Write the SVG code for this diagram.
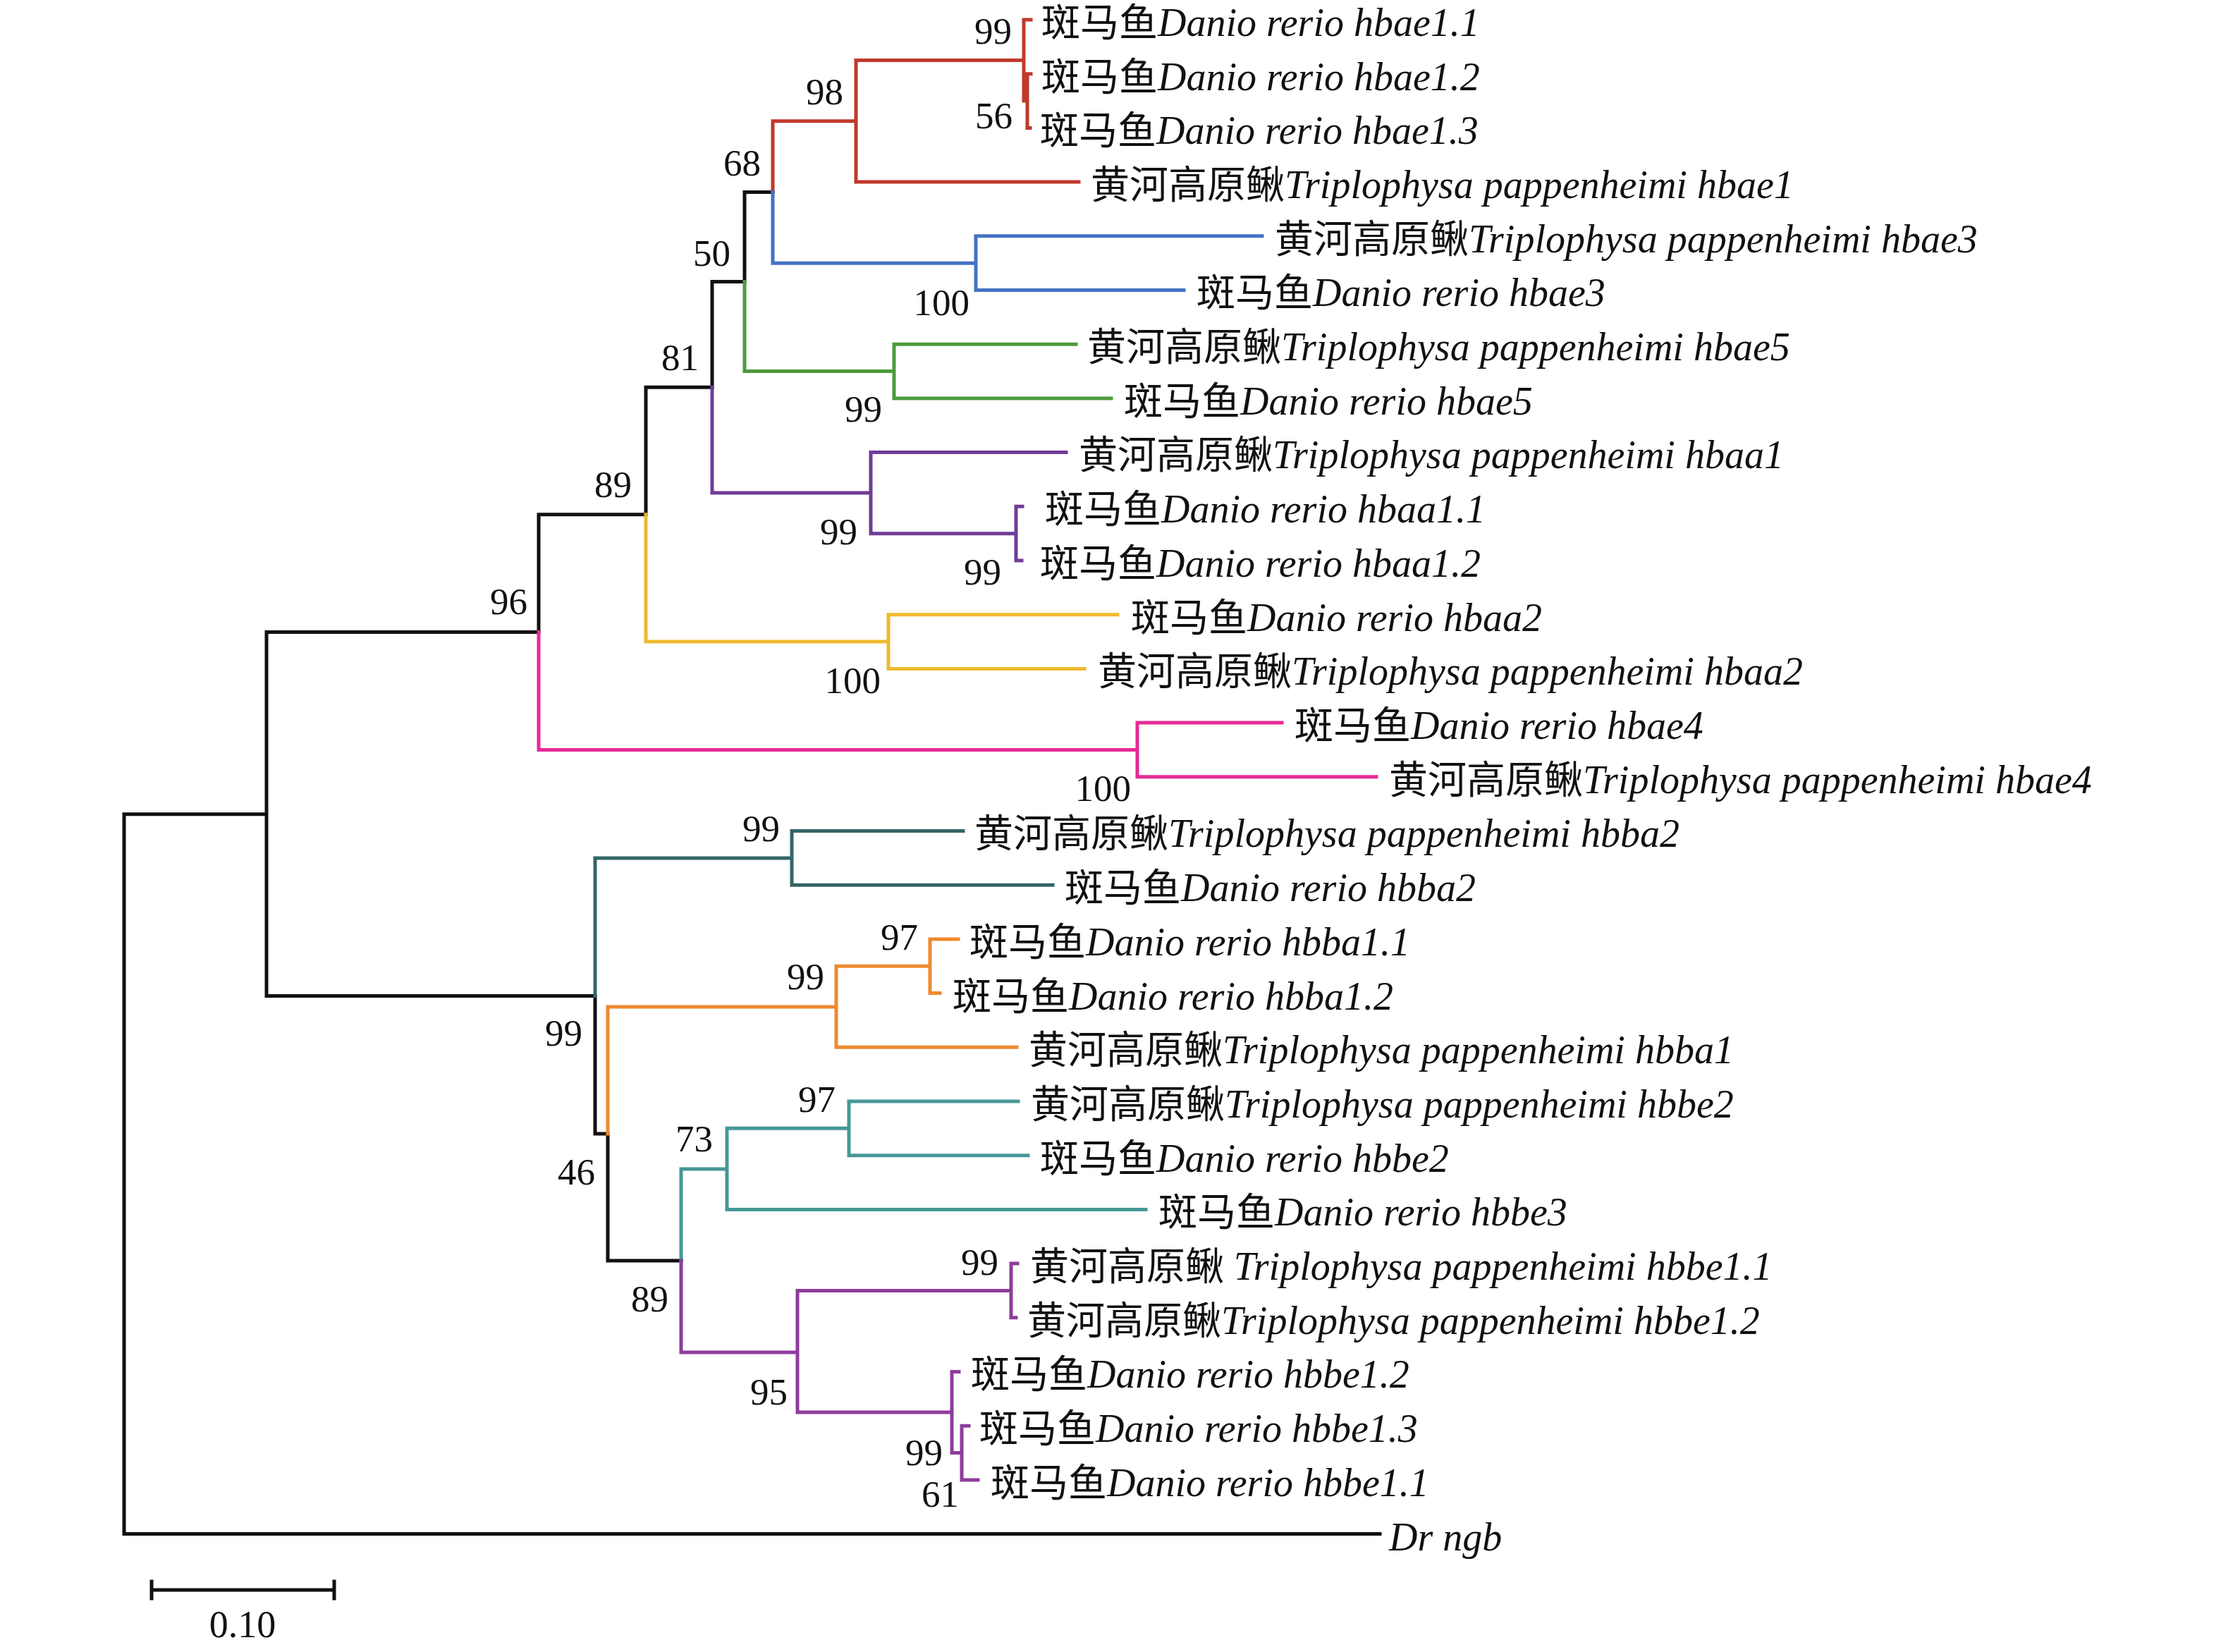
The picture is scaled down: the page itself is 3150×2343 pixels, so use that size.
<svg xmlns="http://www.w3.org/2000/svg" width="3150" height="2343" viewBox="0 0 3150 2343">
<style>
text{font-family:"Liberation Serif","Noto Sans CJK SC",serif;fill:#111}
.lb{font-size:55px}
.bs{font-size:53px;text-anchor:end}
.it{font-style:italic;font-size:56px}
.br{fill:none;stroke-width:5;stroke-linecap:square;stroke-linejoin:miter}
.k{stroke:#111}.r{stroke:#C0392B}.b{stroke:#4472C4}.g{stroke:#4C9A3C}.p{stroke:#6F3C97}.y{stroke:#EDB92F}.pk{stroke:#E62A96}.dt{stroke:#346565}.o{stroke:#EF8A2E}.t{stroke:#469896}.m{stroke:#8E3C9C}
</style>
<rect width="3150" height="2343" fill="#fff"/>
<g id="connectors">
<path class="br k" d="M176,1665 V1154.7 H378 M176,1665 V2175.6 H1957 M378,1154.7 V896.6 H764 M378,1154.7 V1412.5 H844 M764,896.6 V729.7 H916 M916,729.7 V549.3 H1010 M1010,549.3 V399.5 H1056 M1056,399.5 V272.5 H1096 M844,1412.5 V1608 H862 M862,1608 V1788 H966"/>
<path class="br r" d="M1096,272.5 V171.8 H1214 M1214,171.8 V85.5 H1452 M1214,171.8 V258.1 H1530 M1452,85.5 V28 H1462 M1452,85.5 V143 H1457 M1457,143 V104.7 H1462 M1457,143 V181.4 H1461"/>
<path class="br b" d="M1096,272.5 V373.2 H1384 M1384,373.2 V334.8 H1790 M1384,373.2 V411.5 H1679"/>
<path class="br g" d="M1056,399.5 V526.6 H1268 M1268,526.6 V488.2 H1526 M1268,526.6 V564.9 H1576"/>
<path class="br p" d="M1010,549.3 V699.1 H1235 M1235,699.1 V641.6 H1512 M1235,699.1 V756.7 H1441 M1441,756.7 V718.3 H1450 M1441,756.7 V795 H1449"/>
<path class="br y" d="M916,729.7 V910 H1260 M1260,910 V871.7 H1585 M1260,910 V948.4 H1538"/>
<path class="br pk" d="M764,896.6 V1063.5 H1613 M1613,1063.5 V1025.1 H1818 M1613,1063.5 V1101.8 H1952"/>
<path class="br dt" d="M844,1412.5 V1216.9 H1123 M1123,1216.9 V1178.5 H1366 M1123,1216.9 V1255.2 H1493"/>
<path class="br o" d="M862,1608 V1428 H1186 M1186,1428 V1370.2 H1319 M1186,1428 V1485.3 H1442 M1319,1370.2 V1331.9 H1359 M1319,1370.2 V1408.6 H1333"/>
<path class="br t" d="M966,1788 V1657.9 H1031 M1031,1657.9 V1600.3 H1204 M1031,1657.9 V1715.4 H1625 M1204,1600.3 V1562 H1444 M1204,1600.3 V1638.7 H1458"/>
<path class="br m" d="M966,1788 V1918 H1131 M1131,1918 V1830.4 H1434 M1131,1918 V2003 H1350 M1434,1830.4 V1792.1 H1443 M1434,1830.4 V1868.8 H1441 M1350,2003 V1945.5 H1360 M1350,2003 V2060.5 H1364 M1364,2060.5 V2022.2 H1374 M1364,2060.5 V2098.9 H1387"/>
</g>
<g id="leaves">
<g id="leaf-hbae1-1"><text class="lb" x="1477" y="51">斑马鱼<tspan class="it">Danio rerio hbae1.1</tspan></text></g>
<g id="leaf-hbae1-2"><text class="lb" x="1477" y="128">斑马鱼<tspan class="it">Danio rerio hbae1.2</tspan></text></g>
<g id="leaf-hbae1-3"><text class="lb" x="1475" y="204">斑马鱼<tspan class="it">Danio rerio hbae1.3</tspan></text></g>
<g id="leaf-tp-hbae1"><text class="lb" x="1547" y="281">黄河高原鳅<tspan class="it">Triplophysa pappenheimi hbae1</tspan></text></g>
<g id="leaf-tp-hbae3"><text class="lb" x="1808" y="358">黄河高原鳅<tspan class="it">Triplophysa pappenheimi hbae3</tspan></text></g>
<g id="leaf-hbae3"><text class="lb" x="1697" y="434">斑马鱼<tspan class="it">Danio rerio hbae3</tspan></text></g>
<g id="leaf-tp-hbae5"><text class="lb" x="1542" y="511">黄河高原鳅<tspan class="it">Triplophysa pappenheimi hbae5</tspan></text></g>
<g id="leaf-hbae5"><text class="lb" x="1594" y="588">斑马鱼<tspan class="it">Danio rerio hbae5</tspan></text></g>
<g id="leaf-tp-hbaa1"><text class="lb" x="1530" y="664">黄河高原鳅<tspan class="it">Triplophysa pappenheimi hbaa1</tspan></text></g>
<g id="leaf-hbaa1-1"><text class="lb" x="1482" y="741">斑马鱼<tspan class="it">Danio rerio hbaa1.1</tspan></text></g>
<g id="leaf-hbaa1-2"><text class="lb" x="1475" y="818">斑马鱼<tspan class="it">Danio rerio hbaa1.2</tspan></text></g>
<g id="leaf-hbaa2"><text class="lb" x="1604" y="895">斑马鱼<tspan class="it">Danio rerio hbaa2</tspan></text></g>
<g id="leaf-tp-hbaa2"><text class="lb" x="1557" y="971">黄河高原鳅<tspan class="it">Triplophysa pappenheimi hbaa2</tspan></text></g>
<g id="leaf-hbae4"><text class="lb" x="1836" y="1048">斑马鱼<tspan class="it">Danio rerio hbae4</tspan></text></g>
<g id="leaf-tp-hbae4"><text class="lb" x="1970" y="1125">黄河高原鳅<tspan class="it">Triplophysa pappenheimi hbae4</tspan></text></g>
<g id="leaf-tp-hbba2"><text class="lb" x="1382" y="1201">黄河高原鳅<tspan class="it">Triplophysa pappenheimi hbba2</tspan></text></g>
<g id="leaf-hbba2"><text class="lb" x="1510" y="1278">斑马鱼<tspan class="it">Danio rerio hbba2</tspan></text></g>
<g id="leaf-hbba1-1"><text class="lb" x="1375" y="1355">斑马鱼<tspan class="it">Danio rerio hbba1.1</tspan></text></g>
<g id="leaf-hbba1-2"><text class="lb" x="1351" y="1432">斑马鱼<tspan class="it">Danio rerio hbba1.2</tspan></text></g>
<g id="leaf-tp-hbba1"><text class="lb" x="1459" y="1508">黄河高原鳅<tspan class="it">Triplophysa pappenheimi hbba1</tspan></text></g>
<g id="leaf-tp-hbbe2"><text class="lb" x="1462" y="1585">黄河高原鳅<tspan class="it">Triplophysa pappenheimi hbbe2</tspan></text></g>
<g id="leaf-hbbe2"><text class="lb" x="1475" y="1662">斑马鱼<tspan class="it">Danio rerio hbbe2</tspan></text></g>
<g id="leaf-hbbe3"><text class="lb" x="1643" y="1738">斑马鱼<tspan class="it">Danio rerio hbbe3</tspan></text></g>
<g id="leaf-tp-hbbe1-1"><text class="lb" x="1461" y="1815">黄河高原鳅 <tspan class="it">Triplophysa pappenheimi hbbe1.1</tspan></text></g>
<g id="leaf-tp-hbbe1-2"><text class="lb" x="1457" y="1892">黄河高原鳅<tspan class="it">Triplophysa pappenheimi hbbe1.2</tspan></text></g>
<g id="leaf-hbbe1-2"><text class="lb" x="1377" y="1968">斑马鱼<tspan class="it">Danio rerio hbbe1.2</tspan></text></g>
<g id="leaf-hbbe1-3"><text class="lb" x="1389" y="2045">斑马鱼<tspan class="it">Danio rerio hbbe1.3</tspan></text></g>
<g id="leaf-hbbe1-1"><text class="lb" x="1405" y="2122">斑马鱼<tspan class="it">Danio rerio hbbe1.1</tspan></text></g>
<g id="leaf-ngb"><text class="lb it" x="1970" y="2199">Dr ngb</text></g>
</g>
<g id="bootstrap">
<text class="bs" x="1435" y="62">99</text>
<text class="bs" x="1436" y="182">56</text>
<text class="bs" x="1196" y="148">98</text>
<text class="bs" x="1079" y="249">68</text>
<text class="bs" x="1036" y="377">50</text>
<text class="bs" x="1375" y="447">100</text>
<text class="bs" x="991" y="525">81</text>
<text class="bs" x="1251" y="598">99</text>
<text class="bs" x="896" y="705">89</text>
<text class="bs" x="1216" y="772">99</text>
<text class="bs" x="1420" y="829">99</text>
<text class="bs" x="748" y="871">96</text>
<text class="bs" x="1249" y="983">100</text>
<text class="bs" x="1604" y="1136">100</text>
<text class="bs" x="1106" y="1193">99</text>
<text class="bs" x="1302" y="1347">97</text>
<text class="bs" x="1169" y="1403">99</text>
<text class="bs" x="826" y="1483">99</text>
<text class="bs" x="1185" y="1577">97</text>
<text class="bs" x="1011" y="1633">73</text>
<text class="bs" x="844" y="1680">46</text>
<text class="bs" x="948" y="1860">89</text>
<text class="bs" x="1416" y="1808">99</text>
<text class="bs" x="1117" y="1992">95</text>
<text class="bs" x="1337" y="2078">99</text>
<text class="bs" x="1360" y="2137">61</text>
</g>
<g id="scale-bar">
<path class="br k" stroke-linecap="butt" d="M215,2255 H474 M215,2243 V2267 M474,2243 V2267"/>
<text x="344" y="2322" font-size="54" text-anchor="middle">0.10</text>
</g>
</svg>
